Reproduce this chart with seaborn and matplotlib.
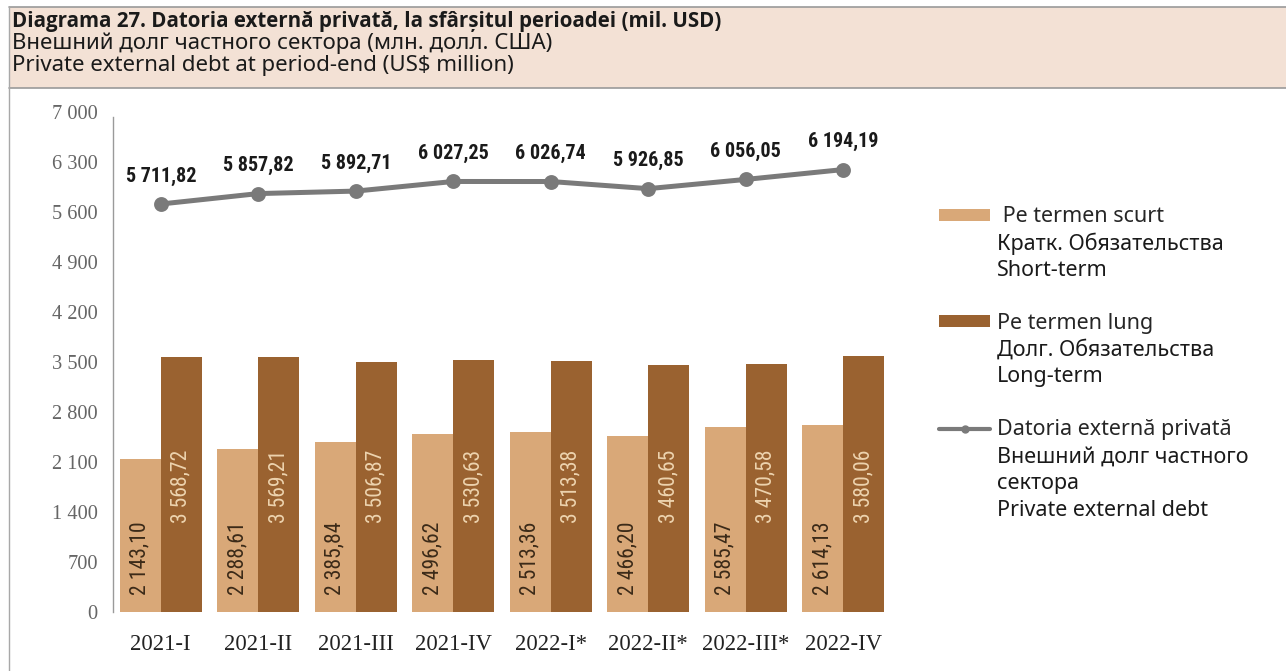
import matplotlib
matplotlib.use("Agg")
import numpy as np
import pandas as pd
import seaborn as sns
import matplotlib.pyplot as plt
from matplotlib.patches import Patch, Rectangle
from matplotlib.lines import Line2D
from matplotlib import font_manager

# ---------------- data ----------------
periods = ["2021-I", "2021-II", "2021-III", "2021-IV",
           "2022-I*", "2022-II*", "2022-III*", "2022-IV"]
short_term = [2143.10, 2288.61, 2385.84, 2496.62, 2513.36, 2466.20, 2585.47, 2614.13]
long_term = [3568.72, 3569.21, 3506.87, 3530.63, 3513.38, 3460.65, 3470.58, 3580.06]
total_debt = [5711.82, 5857.82, 5892.71, 6027.25, 6026.74, 5926.85, 6056.05, 6194.19]
y_ticks = [0, 700, 1400, 2100, 2800, 3500, 4200, 4900, 5600, 6300, 7000]

series_short = "Pe termen scurt"
series_long = "Pe termen lung"
title_lines = ["Diagrama 27. Datoria externă privată, la sfârșitul perioadei (mil. USD)",
               "Внешний долг частного сектора (млн. долл. США)",
               "Private external debt at period-end (US$ million)"]
legend_short = [" Pe termen scurt", "Кратк. Обязательства", "Short-term"]
legend_long = ["Pe termen lung", "Долг. Обязательства", "Long-term"]
legend_total = ["Datoria externă privată", "Внешний долг частного", "сектора",
                "Private external debt"]

# ---------------- style ----------------
sns.set_theme(style="white")
fonts = font_manager.fontManager.ttflist
avail = {f.name for f in fonts}


def pick(*names):
    for n in names:
        if n in avail:
            return n
    return "DejaVu Sans"


def pick_bold(*names):
    for n in names:
        for f in fonts:
            if f.name == n and (f.weight in ("bold", 700) or
                                (isinstance(f.weight, int) and f.weight >= 600)):
                return n
    return "DejaVu Sans"


narrow = pick("Roboto Condensed", "Liberation Sans Narrow", "DejaVu Sans")
serif = pick("Liberation Serif", "DejaVu Serif")
textfont = pick("Noto Sans", "Open Sans", "DejaVu Sans")
boldfont = pick_bold("Noto Sans", "Open Sans", "Lato", "DejaVu Sans")
plt.rcParams["font.family"] = [narrow, "DejaVu Sans"]

c_short = "#D9A878"
c_long = "#9A6230"
c_line = "#7A7A7A"

W, H = 1286, 671
fig = plt.figure(figsize=(W / 100, H / 100), dpi=100)
fig.patch.set_facecolor("white")
renderer = fig.canvas.get_renderer()


def fx(px):
    return px / W


def fy(py):
    return 1 - py / H


def fit_size(text, family, target_px, weight="normal", base=13.0):
    t = fig.text(0, 0, text, fontsize=base, family=family, fontweight=weight)
    w = t.get_window_extent(renderer).width
    t.remove()
    return base * target_px / w


# header band
fig.patches.append(Rectangle((fx(9), fy(88)), fx(W) - fx(9), fy(7) - fy(88),
                             transform=fig.transFigure, facecolor="#F3E1D5",
                             edgecolor="none", zorder=0))
fig.add_artist(Line2D([fx(9), 1], [fy(7), fy(7)], color="#9A9A9A", lw=1.2))
fig.add_artist(Line2D([fx(9), 1], [fy(88), fy(88)], color="#9A9A9A", lw=1.2))
fig.add_artist(Line2D([fx(9), fx(9)], [fy(7), 0], color="#A8A8A8", lw=1.0))

t_bold = fit_size(title_lines[0], boldfont, 704, weight="bold")
t_reg = fit_size(title_lines[1], textfont, 539)
for i, (t, yy) in enumerate(zip(title_lines, [21, 43, 65])):
    fig.text(fx(12), fy(yy), t, fontsize=t_bold if i == 0 else t_reg,
             family=boldfont if i == 0 else textfont, va="center", ha="left",
             color="#1a1a1a", fontweight="bold" if i == 0 else "normal")

# ---------------- axes ----------------
ax = fig.add_axes([fx(113), fy(612), fx(892) - fx(113), fy(112) - fy(612)])
ax.set_facecolor("white")

df = pd.DataFrame({
    "period": periods * 2,
    "value": short_term + long_term,
    "series": [series_short] * len(periods) + [series_long] * len(periods),
})
sns.barplot(data=df, x="period", y="value", hue="series", order=periods,
            hue_order=[series_short, series_long],
            palette=[c_short, c_long], width=0.84, gap=0, errorbar=None,
            saturation=1, ax=ax, legend=False, linewidth=0)

dft = pd.DataFrame({"period": periods, "total": total_debt})
sns.pointplot(data=dft, x="period", y="total", order=periods, color=c_line,
              markers="o", markersize=8, linewidth=3.6, ax=ax, errorbar=None)


def fmt2(v):
    return f"{v:,.2f}".replace(",", " ").replace(".", ",")


for i, v in enumerate(total_debt):
    ax.annotate(fmt2(v), (i, v), xytext=(0, 20), textcoords="offset points",
                ha="center", va="center", fontsize=14.5, fontweight="bold",
                color="#1a1a1a")

bar_fs = fit_size("2 143,10", narrow, 73)
for i, (s, l) in enumerate(zip(short_term, long_term)):
    ax.text(i - 0.21, 240, fmt2(s), rotation=90, ha="center", va="bottom",
            fontsize=bar_fs, color="#3b2a18")
    ax.text(i + 0.21, 1250, fmt2(l), rotation=90, ha="center", va="bottom",
            fontsize=bar_fs, color="#EDD3AE")

ax.set_xlim(-0.49, 7.5)
ax.set_ylim(0, 7000)
ax.set_yticks(y_ticks)
ax.set_yticklabels([f"{v:,.0f}".replace(",", " ") for v in y_ticks],
                   fontsize=fit_size("7 000", serif, 45), color="#666666",
                   family=serif)
ax.set_xticks(range(len(periods)))
ax.set_xticklabels(periods, fontsize=fit_size("2021-I", serif, 60),
                   color="#222222", family=serif)
ax.tick_params(axis="y", length=0, pad=11)
ax.tick_params(axis="x", length=0, pad=16)
ax.set_xlabel("")
ax.set_ylabel("")
for sp in ["top", "right", "bottom"]:
    ax.spines[sp].set_visible(False)
ax.spines["left"].set_color("#9A9A9A")
ax.spines["left"].set_linewidth(1.0)
ax.spines["left"].set_bounds(0, 6930)
ax.grid(False)

# ---------------- legend ----------------
leg_fs = fit_size(legend_short[1], textfont, 226)
leg_px = leg_fs * 100 / 72
handles = [Patch(facecolor=c_short, edgecolor="none"),
           Patch(facecolor=c_long, edgecolor="none"),
           Line2D([0], [0], color=c_line, lw=3, marker="o", markersize=5)]
entries = [legend_short, legend_long, legend_total]
row_y = [217, 323, 430]
for h, lines, y0 in zip(handles, entries, row_y):
    lg = fig.legend([h], [lines[0]], loc="center left",
                    bbox_to_anchor=(fx(939), fy(y0)), frameon=False,
                    handlelength=51 / leg_px, handleheight=10 / leg_px,
                    handletextpad=7 / leg_px,
                    borderpad=0, borderaxespad=0,
                    prop={"family": textfont, "size": leg_fs})
    for k, t in enumerate(lines[1:], start=1):
        fig.text(fx(997), fy(y0 + 26.7 * k), t, fontsize=leg_fs, family=textfont,
                 va="center", ha="left", color="#1a1a1a")

fig.savefig("out.png", dpi=100, facecolor="white")
